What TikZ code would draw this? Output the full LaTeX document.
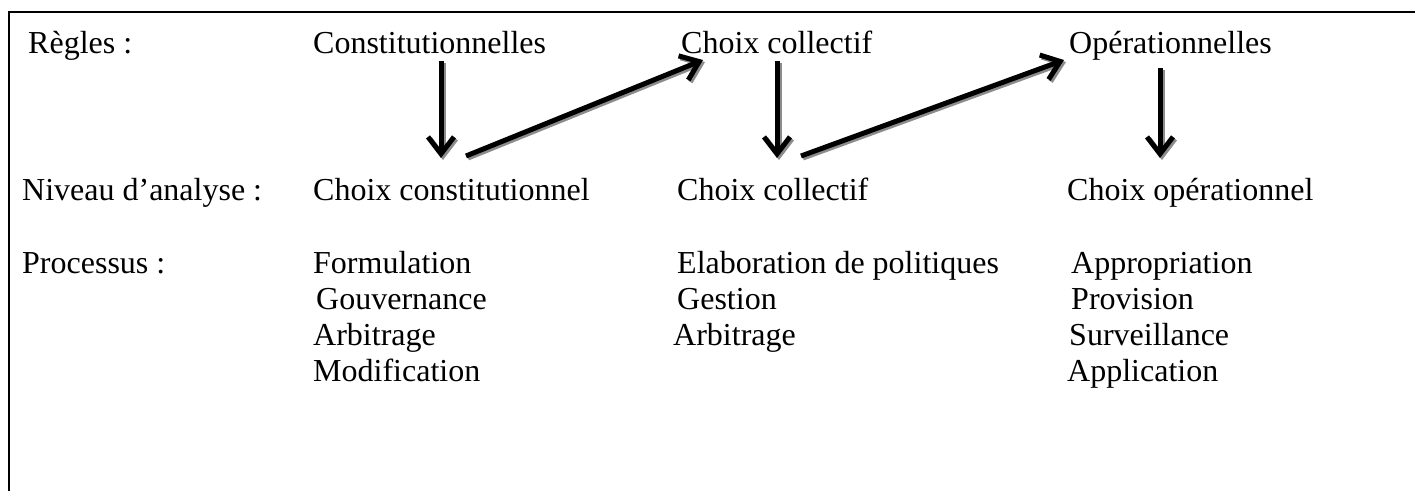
\documentclass[tikz,border=0pt]{standalone}
\usepackage{fontspec}
\setmainfont{Liberation Serif}
\usetikzlibrary{arrows.meta}
\begin{document}
\begin{tikzpicture}[x=1pt,y=-1pt,
  txt/.style={anchor=base west,inner sep=0pt,font=\fontsize{32}{36}\selectfont},
  frameline/.style={line width=2pt,black},
  bigarrow/.style={line width=5pt,-{Straight Barb[length=17pt,width=26pt]}},
  shadowarrow/.style={bigarrow,color=black!45}]
\useasboundingbox (0,0) rectangle (1415,491);
% frame (open at right and bottom)
\draw[frameline] (9,491) -- (9,12) -- (1415,12);
% row 1
\node[txt] (regles) at (28,53) {Règles :};
\node[txt] (consR) at (313,53) {Constitutionnelles};
\node[txt] (collR) at (681,53) {Choix collectif};
\node[txt] (opR) at (1069,53) {Opérationnelles};
% row 2
\node[txt] (niveau) at (22,200) {Niveau d’analyse :};
\node[txt] (consN) at (313,200) {Choix constitutionnel};
\node[txt] (collN) at (677,200) {Choix collectif};
\node[txt] (opN) at (1067,200) {Choix opérationnel};
% row 3
\node[txt] (proc) at (22,273) {Processus :};
\node[txt] (p11) at (313,273) {Formulation};
\node[txt] (p12) at (316,309) {Gouvernance};
\node[txt] (p13) at (313,345) {Arbitrage};
\node[txt] (p14) at (313,381) {Modification};
\node[txt] (p21) at (677,273) {Elaboration de politiques};
\node[txt] (p22) at (677,309) {Gestion};
\node[txt] (p23) at (673,345) {Arbitrage};
\node[txt] (p31) at (1071,273) {Appropriation};
\node[txt] (p32) at (1071,309) {Provision};
\node[txt] (p33) at (1069,345) {Surveillance};
\node[txt] (p34) at (1067,381) {Application};
% arrow end points
\coordinate (a1s) at (441,61);  \coordinate (a1e) at (441,158);
\coordinate (d1s) at (466,156); \coordinate (d1e) at (703,60);
\coordinate (a2s) at (777,61);  \coordinate (a2e) at (777,158);
\coordinate (d2s) at (801,156); \coordinate (d2e) at (1064,60);
\coordinate (a3s) at (1160,68); \coordinate (a3e) at (1160,158);
% shadows
\foreach \s/\e in {a1s/a1e,d1s/d1e,a2s/a2e,d2s/d2e,a3s/a3e}
  \draw[shadowarrow] ([xshift=2pt,yshift=-2pt]\s) -- ([xshift=2pt,yshift=-2pt]\e);
% arrows
\foreach \s/\e in {a1s/a1e,d1s/d1e,a2s/a2e,d2s/d2e,a3s/a3e}
  \draw[bigarrow] (\s) -- (\e);
\end{tikzpicture}
\end{document}
